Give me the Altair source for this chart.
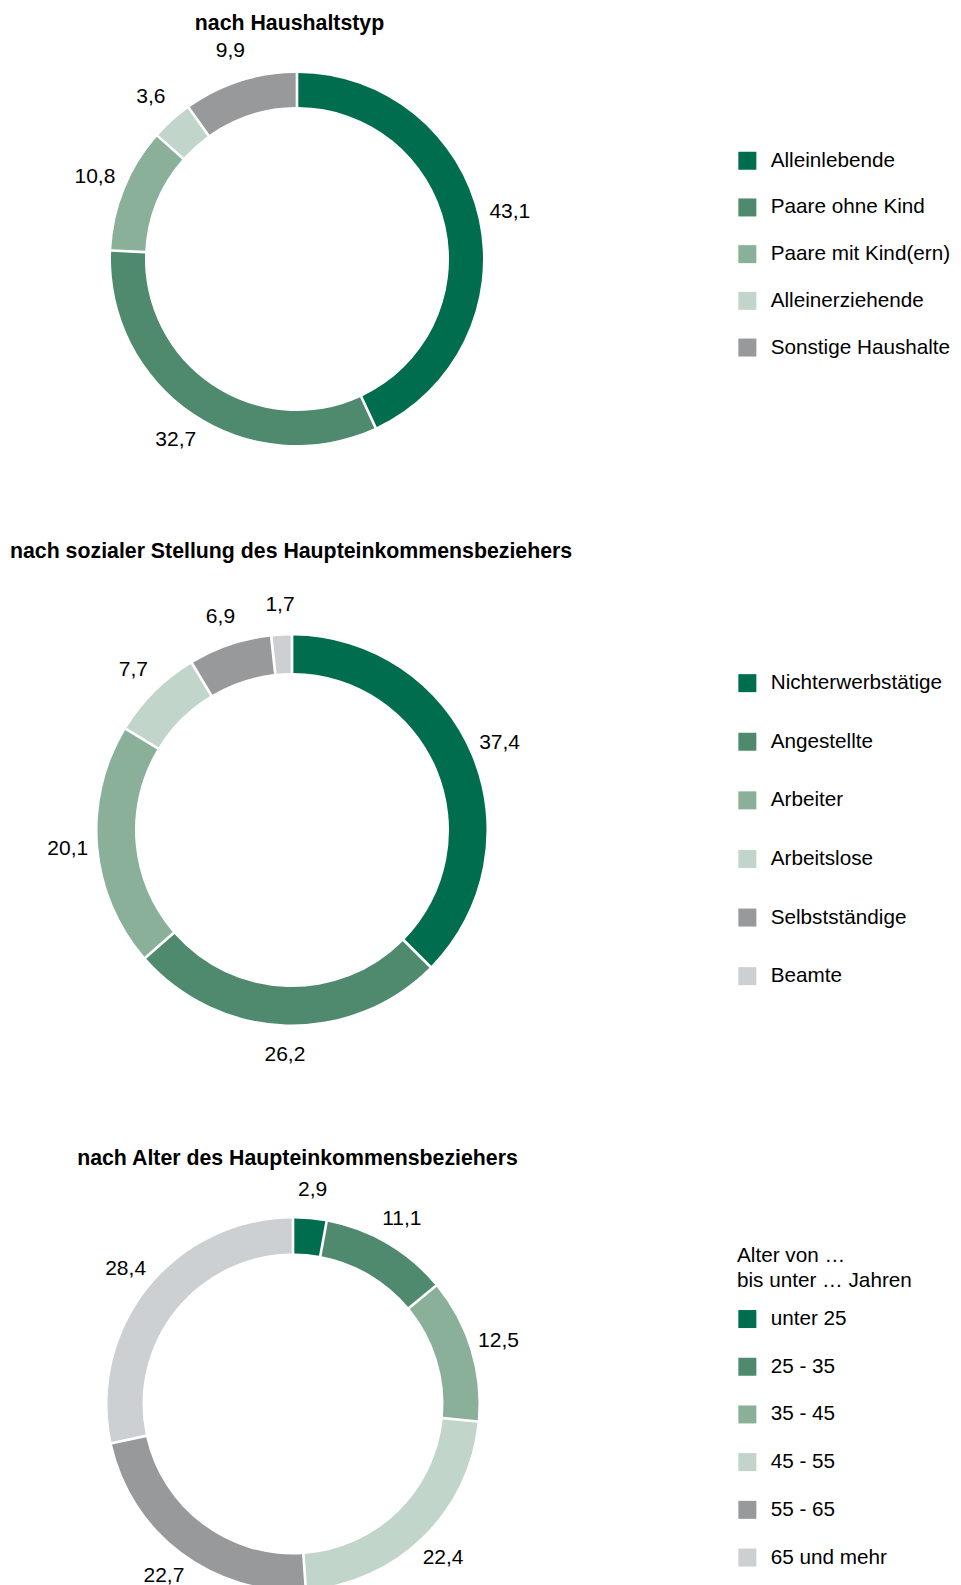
import altair as alt
import pandas as pd

FONT = "Liberation Sans"

# ---------------- data ----------------
titel = [
    "nach Haushaltstyp",
    "nach sozialer Stellung des Haupteinkommensbeziehers",
    "nach Alter des Haupteinkommensbeziehers",
]

haushalt_kat = ["Alleinlebende", "Paare ohne Kind", "Paare mit Kind(ern)",
                "Alleinerziehende", "Sonstige Haushalte"]
haushalt_val = [43.1, 32.7, 10.8, 3.6, 9.9]

stellung_kat = ["Nichterwerbstätige", "Angestellte", "Arbeiter",
                "Arbeitslose", "Selbstständige", "Beamte"]
stellung_val = [37.4, 26.2, 20.1, 7.7, 6.9, 1.7]

alter_kat = ["unter 25", "25 - 35", "35 - 45", "45 - 55", "55 - 65", "65 und mehr"]
alter_val = [2.9, 11.1, 12.5, 22.4, 22.7, 28.4]
alter_legend_title = ["Alter von …", "bis unter … Jahren"]

farben6 = ["#006e4e", "#4f8a6f", "#8bb09a", "#c2d5ca", "#97999b", "#ccd0d2"]
farben_haushalt = ["#006e4e", "#4f8a6f", "#8bb09a", "#c2d5ca", "#97999b"]

FS_TITLE = 21.3
FS_LEG = 20.7
FS_LAB = 21


def donut(kats, vals, colors, cx, cy, r_in, r_out, r_lab, legend):
    df = pd.DataFrame({
        "kat": kats,
        "wert": vals,
        "idx": list(range(len(kats))),
        "label": [f"{v:.1f}".replace(".", ",") for v in vals],
    })
    base = alt.Chart(df).encode(
        theta=alt.Theta("wert:Q", stack=True),
        order=alt.Order("idx:Q"),
        x=alt.value(cx),
        y=alt.value(cy),
    )
    arc = base.mark_arc(innerRadius=r_in, outerRadius=r_out, padAngle=0.011).encode(
        color=alt.Color("kat:N", scale=alt.Scale(domain=kats, range=colors),
                        legend=legend)
    )
    txt = base.mark_text(radius=r_lab, fontSize=FS_LAB, font=FONT, color="black",
                         align="center", baseline="middle").encode(text="label:N")
    return [arc, txt]


def leg(x, y, row_pad, **kw):
    return alt.Legend(
        orient="none", legendX=x, legendY=y, direction="vertical",
        symbolType="square", symbolSize=324, symbolStrokeWidth=0,
        labelFont=FONT, labelFontSize=FS_LEG, labelColor="black",
        labelOffset=13, labelLimit=400, rowPadding=row_pad, padding=0,
        **kw,
    )


def title_text(txt, x, y, align):
    df = pd.DataFrame({"t": [txt]})
    return alt.Chart(df).mark_text(
        font=FONT, fontSize=FS_TITLE, fontWeight="bold", color="black",
        align=align, baseline="alphabetic",
    ).encode(text="t:N", x=alt.value(x), y=alt.value(y))


layers = []
layers.append(title_text(titel[0], 281.5, 22, "center"))
layers += donut(haushalt_kat, haushalt_val, farben_haushalt, 289, 251, 152, 186, 218,
                leg(729, 142.4, 24.7, title=None))
layers.append(title_text(titel[1], 2, 550, "left"))
layers += donut(stellung_kat, stellung_val, farben6, 284, 822, 157, 194.5, 225,
                leg(729, 664.8, 36.6, title=None))
layers.append(title_text(titel[2], 289.5, 1157, "center"))
layers += donut(alter_kat, alter_val, farben6, 285, 1396, 150.5, 185.5, 215,
                leg(729, 1238, 25.7, title=alter_legend_title,
                    titleFont=FONT, titleFontSize=FS_LEG, titleFontWeight="normal",
                    titleColor="black", titleLineHeight=25, titlePadding=17,
                    titleLimit=400))

chart = alt.layer(*layers).properties(
    width=945, height=1577,
    autosize=alt.AutoSizeParams(type="none"),
    padding=0,
).resolve_scale(
    color="independent", theta="independent"
).configure_view(stroke=None)

chart.save("out.html", embed_options={"renderer": "svg", "actions": False})
